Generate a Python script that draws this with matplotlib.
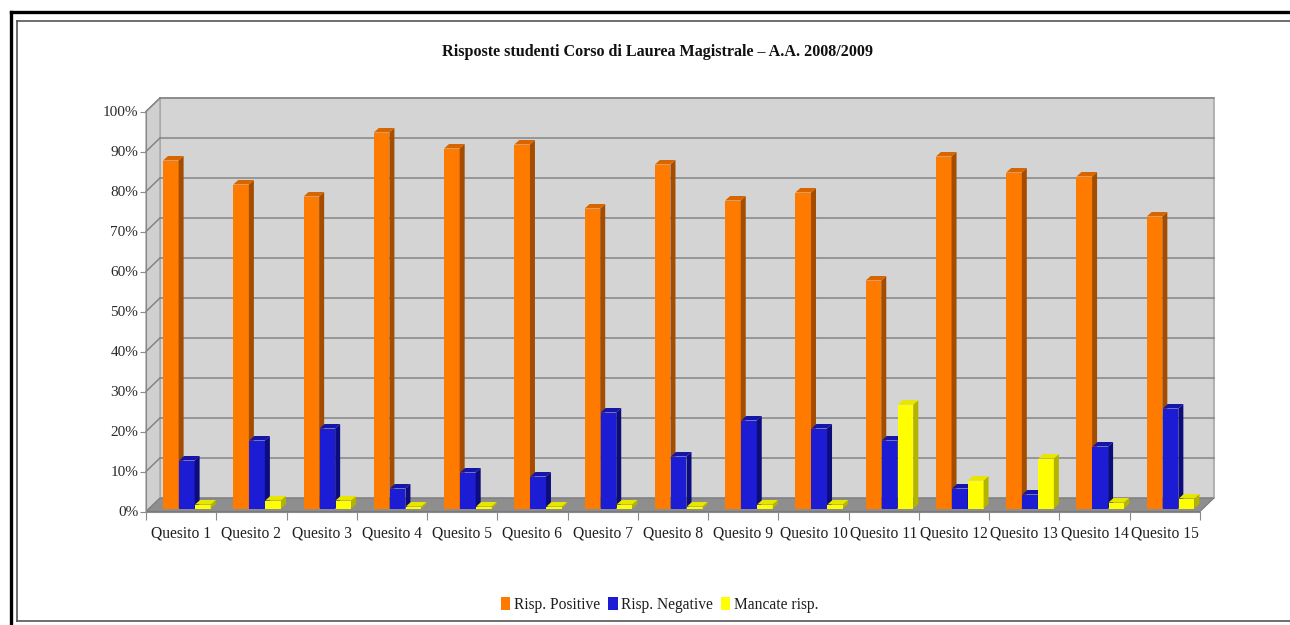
import matplotlib
matplotlib.use("Agg")
import matplotlib.pyplot as plt
from matplotlib.patches import Polygon
from matplotlib.lines import Line2D

# ---------------- data ----------------
categories = [f"Quesito {i}" for i in range(1, 16)]
positive = [87, 81, 78, 94, 90, 91, 75, 86, 77, 79, 57, 88, 84, 83, 73]
negative = [12, 17, 20, 5, 9, 8, 24, 13, 22, 20, 17, 5, 3.5, 15.5, 25]
missing = [1, 2, 2, 0.5, 0.5, 0.5, 1, 0.5, 1, 1, 26, 7, 12.5, 1.5, 2.5]
series_names = ["Risp. Positive", "Risp. Negative", "Mancate risp."]
yticks = list(range(0, 101, 10))
ytick_labels = [f"{v}%" for v in yticks]
title = "Risposte studenti Corso di Laurea Magistrale \u2013 A.A. 2008/2009"

# ---------------- style ----------------
FONT = ["Liberation Serif", "DejaVu Serif"]
plt.rcParams["font.family"] = FONT
front_cols = ["#ff7b00", "#1c1cd4", "#ffff00"]
side_cols = ["#a44c00", "#0c0c7c", "#b4b400"]
top_cols = ["#d86600", "#1515a8", "#e6e600"]

W, H = 1290, 625
fig = plt.figure(figsize=(W / 100, H / 100), dpi=100)
fig.patch.set_facecolor("white")

# frame lines (pixel -> figure fraction)
def fx(px):
    return px / W

def fy(py):
    return 1 - py / H

fig.add_artist(Line2D([fx(11), 1.01], [fy(12), fy(12)], color="black", lw=2.4, transform=fig.transFigure))
fig.add_artist(Line2D([fx(11), fx(11)], [fy(12), -0.01], color="black", lw=2.4, transform=fig.transFigure))
fig.add_artist(Line2D([fx(17), 1.01], [fy(21), fy(21)], color="#555555", lw=1.2, transform=fig.transFigure))
fig.add_artist(Line2D([fx(17), fx(17)], [fy(21), fy(621)], color="#555555", lw=1.2, transform=fig.transFigure))
fig.add_artist(Line2D([fx(17), 1.01], [fy(621), fy(621)], color="#555555", lw=1.2, transform=fig.transFigure))

# axes placed on the front plane of the pseudo-3D box
x0_px, x1_px = 146, 1200
y0_px, y100_px = 511.5, 111.5
ax = fig.add_axes([x0_px / W, 1 - y0_px / H, (x1_px - x0_px) / W, (y0_px - y100_px) / H])
n = len(categories)
ax.set_xlim(0, n)
ax.set_ylim(0, 100)
ax.patch.set_visible(False)

pxx = (x1_px - x0_px) / n          # px per category unit
pxy = (y0_px - y100_px) / 100      # px per percent
# depth of the box
Dx, Dy = 14 / pxx, 13.5 / pxy
# bar depth offsets
d0x, d0y = 3.5 / pxx, 3 / pxy
dbx, dby = 5 / pxx, 4.5 / pxy

wall_c = "#d4d4d4"
grid_c = "#858585"
# back wall
ax.add_patch(Polygon([(Dx, Dy), (n + Dx, Dy), (n + Dx, 100 + Dy), (Dx, 100 + Dy)],
                     closed=True, facecolor=wall_c, edgecolor="#a8a8a8", lw=1.2, zorder=0.5, clip_on=False))
# left wall
ax.add_patch(Polygon([(0, 0), (Dx, Dy), (Dx, 100 + Dy), (0, 100)],
                     closed=True, facecolor="#d0d0d0", edgecolor="#a8a8a8", lw=1.0, zorder=0.6, clip_on=False))
# gridlines
for v in yticks[1:]:
    ax.plot([Dx, n + Dx], [v + Dy, v + Dy], color=grid_c, lw=1.1, zorder=0.8, clip_on=False)
    ax.plot([0, Dx], [v, v + Dy], color=grid_c, lw=1.1, zorder=0.8, clip_on=False)
# floor
ax.add_patch(Polygon([(0, 0), (n, 0), (n + Dx, Dy), (Dx, Dy)],
                     closed=True, facecolor="#8e8e8e", edgecolor="#7a7a7a", lw=0.8, zorder=1, clip_on=False))

# bars
w = 0.222
step = 0.228
start = 0.242
allvals = [positive, negative, missing]
for j, vals in enumerate(allvals):
    lefts = [i + start + j * step for i in range(n)]
    z = 2 + j
    ax.bar(lefts, vals, width=w, bottom=d0y, align="edge", color=front_cols[j],
           lw=0, zorder=z, clip_on=False, label=series_names[j])
    for xl, v in zip(lefts, vals):
        xr = xl + w
        b = d0y
        t = d0y + v
        ax.add_patch(Polygon([(xr, b), (xr, t), (xr + dbx, t + dby), (xr + dbx, b + dby)],
                             closed=True, facecolor=side_cols[j], lw=0, zorder=z + 0.1, clip_on=False))
        ax.add_patch(Polygon([(xl, t), (xr, t), (xr + dbx, t + dby), (xl + dbx, t + dby)],
                             closed=True, facecolor=top_cols[j], lw=0, zorder=z + 0.2, clip_on=False))

# axes lines / ticks
for s in ["top", "right"]:
    ax.spines[s].set_visible(False)
ax.spines["left"].set_color("#8a8a8a")
ax.spines["bottom"].set_color("#8a8a8a")
ax.spines["left"].set_zorder(1.5)
ax.spines["bottom"].set_zorder(1.5)
ax.set_yticks(yticks)
ax.set_yticklabels(ytick_labels)
ax.tick_params(axis="y", length=4, color="#8a8a8a", pad=1.5, labelsize=11, labelcolor="#2a2a2a")
ax.set_xticks(list(range(n + 1)))
ax.set_xticklabels([""] * (n + 1))
ax.tick_params(axis="x", which="major", length=6, color="#8a8a8a", direction="out")
ax.set_xticks([i + 0.5 for i in range(n)], minor=True)
ax.set_xticklabels(categories, minor=True)
ax.tick_params(axis="x", which="minor", length=0, pad=10, labelsize=11.2, labelcolor="#1e1e1e")

# title
fig.text(fx(657), fy(52), title, ha="center", va="center", fontsize=11.6,
         fontweight="bold", color="#111111")

# legend
leg = fig.legend(loc="center", bbox_to_anchor=(fx(660), fy(605)), ncol=3, frameon=False,
                 fontsize=11.2, handlelength=0.6, handleheight=0.9, handletextpad=0.25,
                 columnspacing=0.5, borderpad=0)
for t in leg.get_texts():
    t.set_color("#1e1e1e")

fig.savefig("out.png", dpi=100)
